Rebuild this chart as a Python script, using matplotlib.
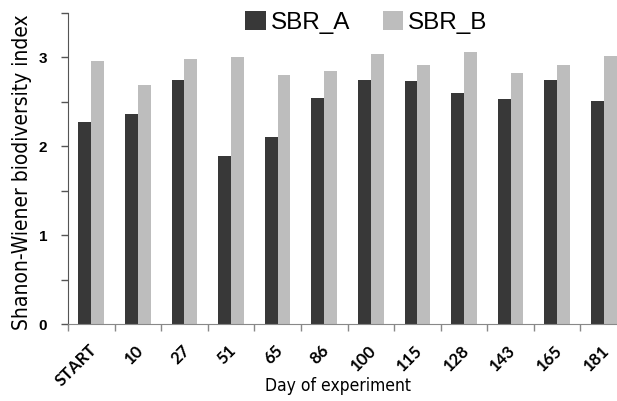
import matplotlib
matplotlib.use("Agg")
import matplotlib.pyplot as plt
from matplotlib.patches import Patch
from matplotlib import font_manager as fm
import matplotlib.transforms as mtransforms
import numpy as np

categories = ["START", "10", "27", "51", "65", "86", "100", "115", "128", "143", "165", "181"]
sbr_a = [2.27, 2.36, 2.75, 1.89, 2.10, 2.54, 2.75, 2.74, 2.60, 2.53, 2.75, 2.51]
sbr_b = [2.96, 2.69, 2.98, 3.00, 2.80, 2.85, 3.04, 2.91, 3.06, 2.83, 2.92, 3.02]
series_names = ["SBR_A", "SBR_B"]
colors = ["#383838", "#bdbdbd"]

# choose a condensed font for axis titles if available
names = {f.name for f in fm.fontManager.ttflist}
title_kw = {"family": ["Liberation Sans", "DejaVu Sans"]}
if "Liberation Sans Narrow" in names:
    title_kw = {"family": ["Liberation Sans Narrow", "Liberation Sans"]}
elif any(f.name == "DejaVu Sans" and f.stretch == "condensed" for f in fm.fontManager.ttflist):
    title_kw = {"family": ["DejaVu Sans"], "fontstretch": "condensed"}

W, H = 617, 401
fig = plt.figure(figsize=(W / 100, H / 100), dpi=100)
left_px, right_px, bottom_px, top_px = 68, 627, 324, 13
ax = fig.add_axes([left_px / W, 1 - bottom_px / H, (right_px - left_px) / W, (bottom_px - top_px) / H])

n = len(categories)
centers = np.arange(n) + 0.5
bw = 0.275
ax.bar(centers - bw / 2, sbr_a, width=bw, color=colors[0], label=series_names[0])
ax.bar(centers + bw / 2, sbr_b, width=bw, color=colors[1], label=series_names[1])

ax.set_xlim(0, n)
ax.set_ylim(0, 3.5)

for s in ["top", "right"]:
    ax.spines[s].set_visible(False)
ax.spines["left"].set_color("#555555")
ax.spines["bottom"].set_color("#888888")

# y ticks
ax.set_yticks([0, 1, 2, 3])
ax.set_yticks(np.arange(0, 3.51, 0.5), minor=True)
ax.set_yticklabels(["0", "1", "2", "3"], fontsize=11, fontweight="bold", family="Liberation Sans")
ax.tick_params(axis="y", which="both", length=5, width=1, color="#555555", pad=10, direction="out")

# x ticks: boundaries as major (no labels), centers as minor (labels)
ax.set_xticks(np.arange(0, n + 1))
ax.set_xticklabels([])
ax.tick_params(axis="x", which="major", length=5, width=1, color="#888888", direction="out")
ax.set_xticks(centers, minor=True)
ax.set_xticklabels(categories, minor=True, rotation=45, ha="right", va="top",
                   rotation_mode="anchor", fontsize=12, fontweight="bold", family="Lato")
ax.tick_params(axis="x", which="minor", length=0, pad=13)
offset = mtransforms.ScaledTranslation(-3 / 100, 0, fig.dpi_scale_trans)
for lbl in ax.get_xticklabels(minor=True):
    lbl.set_transform(lbl.get_transform() + offset)

fig.text(22 / W, 1 - 172 / H, "Shanon-Wiener biodiversity index", rotation=90,
         ha="center", va="center", fontsize=15, **title_kw)
fig.text(338 / W, 1 - 386 / H, "Day of experiment", ha="center", va="center",
         fontsize=12.5, **title_kw)

handles = [Patch(facecolor=colors[0]), Patch(facecolor=colors[1])]
fig.legend(handles, series_names, loc="upper left", bbox_to_anchor=(245 / W, 1 - 11 / H),
           ncol=2, frameon=False, prop={"family": "Liberation Sans", "size": 17.5},
           handlelength=0.85, handleheight=0.85, handletextpad=0.2, columnspacing=1.35,
           borderpad=0, borderaxespad=0)

fig.savefig("out.png", dpi=100)
